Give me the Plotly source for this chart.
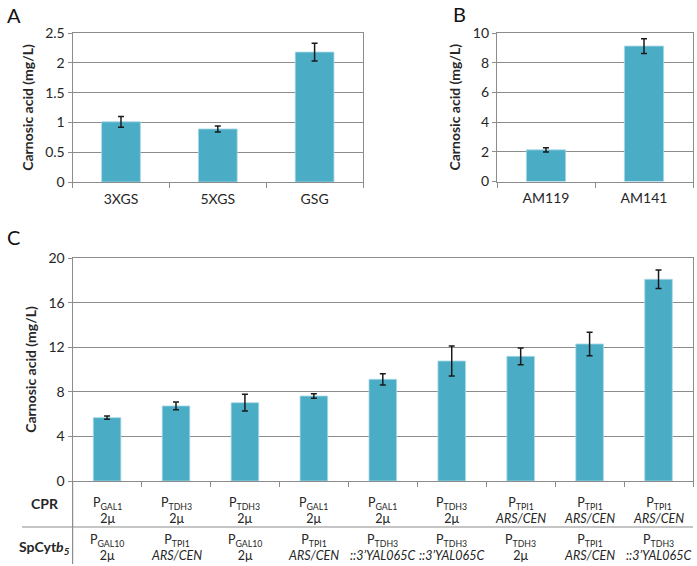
import plotly.graph_objects as go

# ---- data ----
a_categories = ["3XGS", "5XGS", "GSG"]
a_values = [1.01, 0.89, 2.18]
a_errors = [0.09, 0.05, 0.15]

b_categories = ["AM119", "AM141"]
b_values = [2.13, 9.12]
b_errors = [0.15, 0.50]

c_categories = ["S1", "S2", "S3", "S4", "S5", "S6", "S7", "S8", "S9"]
c_values = [5.68, 6.73, 7.02, 7.62, 9.12, 10.76, 11.18, 12.29, 18.09]
c_errors = [0.15, 0.35, 0.75, 0.20, 0.50, 1.35, 0.75, 1.05, 0.83]

cpr_promoter = ["GAL1", "TDH3", "TDH3", "GAL1", "GAL1", "TDH3", "TPI1", "TPI1", "TPI1"]
cpr_vector = ["2μ", "2μ", "2μ", "2μ", "2μ", "2μ", "<i>ARS/CEN</i>", "<i>ARS/CEN</i>", "<i>ARS/CEN</i>"]
cyt_promoter = ["GAL10", "TPI1", "GAL10", "TPI1", "TDH3", "TDH3", "TDH3", "TPI1", "TDH3"]
cyt_vector = ["2μ", "<i>ARS/CEN</i>", "2μ", "<i>ARS/CEN</i>", "<i>::3’YAL065C</i>",
              "<i>::3’YAL065C</i>", "2μ", "<i>ARS/CEN</i>", "<i>::3’YAL065C</i>"]

a_ticks = [0, 0.5, 1, 1.5, 2, 2.5]
b_ticks = [0, 2, 4, 6, 8, 10]
c_ticks = [0, 4, 8, 12, 16, 20]

# ---- style ----
W, H = 697, 566
FONT = "Lato, 'Open Sans', sans-serif"
BAR = "#4BACC6"
GRID = "#8c8c8c"
TXT = "#262626"

def px(x):
    return x / W

def py(y):
    return 1 - y / H

fig = go.Figure()

def add_bars(cats, vals, errs, xa, ya):
    fig.add_trace(go.Bar(
        x=cats, y=vals, xaxis=xa, yaxis=ya, width=0.4,
        marker=dict(color=BAR, line=dict(color="#a8d8e6", width=0.8)),
        error_y=dict(type="data", array=errs, visible=True, color="#1a1a1a",
                     thickness=1.5, width=3),
        showlegend=False, hoverinfo="skip"))

add_bars(a_categories, a_values, a_errors, "x", "y")
add_bars(b_categories, b_values, b_errors, "x2", "y2")
add_bars(c_categories, c_values, c_errors, "x3", "y3")

def xaxis(dom, anchor, n, showlabels=True):
    return dict(domain=dom, anchor=anchor, range=[-0.5, n - 0.5], type="category",
                automargin=False,
                showgrid=False, showline=True, linecolor=GRID, linewidth=1.2,
                mirror=True, ticks="outside", tickson="boundaries", ticklen=5,
                tickcolor=GRID, showticklabels=showlabels, ticklabelstandoff=4,
                tickfont=dict(family=FONT, size=14, color=TXT), fixedrange=True)

def yaxis(dom, anchor, rng, ticks, standoff):
    return dict(domain=dom, anchor=anchor, range=rng, tickvals=ticks,
                automargin=False,
                showgrid=True, gridcolor=GRID, gridwidth=1.2,
                showline=True, linecolor=GRID, linewidth=1.2, mirror=True,
                ticks="outside", ticklen=4, tickcolor=GRID, zeroline=False,
                tickfont=dict(family=FONT, size=14, color=TXT),
                title=dict(text="<b>Carnosic acid (mg/L)</b>", standoff=standoff,
                           font=dict(family=FONT, size=14, color=TXT)),
                fixedrange=True)

fig.update_layout(
    width=W, height=H, margin=dict(l=0, r=0, t=0, b=0, pad=0, autoexpand=False),
    paper_bgcolor="white", plot_bgcolor="white",
    bargap=0.6,
    xaxis=xaxis([px(72.6), px(363)], "y", len(a_categories)),
    yaxis=yaxis([py(182), py(33)], "x", [0, 2.5], a_ticks, 8),
    xaxis2=xaxis([px(497), px(693)], "y2", len(b_categories)),
    yaxis2=yaxis([py(181.5), py(33)], "x2", [0, 10], b_ticks, 8),
    xaxis3=xaxis([px(72.6), px(693)], "y3", len(c_categories), showlabels=False),
    yaxis3=yaxis([py(481), py(258)], "x3", [0, 20], c_ticks, 8),
)

anns = []
# panel letters
for letter, x, y in [("A", 14, 15), ("B", 459, 14), ("C", 14, 237)]:
    anns.append(dict(text=letter, x=px(x), y=py(y), xref="paper", yref="paper",
                     xanchor="center", yanchor="middle",
                     showarrow=False, font=dict(family=FONT, size=20, color="#111")))

# table row labels
anns.append(dict(text="<b>CPR</b>", x=px(45), y=py(503), xref="paper", yref="paper",
                 xanchor="center", yanchor="middle",
                 showarrow=False, font=dict(family=FONT, size=14, color=TXT)))
anns.append(dict(text="<b>SpCyt<i>b</i><sub><i>5</i></sub></b>", x=px(44), y=py(547),
                 xref="paper", yref="paper", xanchor="center", yanchor="middle",
                 showarrow=False, font=dict(family=FONT, size=14, color=TXT)))

# table cells
for i, cat in enumerate(c_categories):
    anns.append(dict(text=f"P<sub>{cpr_promoter[i]}</sub><br>{cpr_vector[i]}",
                     x=cat, xref="x3", y=py(510), yref="paper", showarrow=False,
                     xanchor="center", yanchor="middle",
                     font=dict(family=FONT, size=12.5, color=TXT)))
    anns.append(dict(text=f"P<sub>{cyt_promoter[i]}</sub><br>{cyt_vector[i]}",
                     x=cat, xref="x3", y=py(547), yref="paper", showarrow=False,
                     xanchor="center", yanchor="middle",
                     font=dict(family=FONT, size=12.5, color=TXT)))

fig.update_layout(annotations=anns)

# table separator lines
fig.add_shape(type="line", xref="paper", yref="paper", x0=px(22), x1=px(693),
              y0=py(527), y1=py(527), line=dict(color=GRID, width=1.2))
fig.add_shape(type="line", xref="paper", yref="paper", x0=px(72.6), x1=px(72.6),
              y0=py(481), y1=py(564), line=dict(color=GRID, width=1.2))

fig.write_html("out.html", config={"displayModeBar": False},
               post_script="document.body.style.margin='0';document.body.style.overflow='hidden';")
